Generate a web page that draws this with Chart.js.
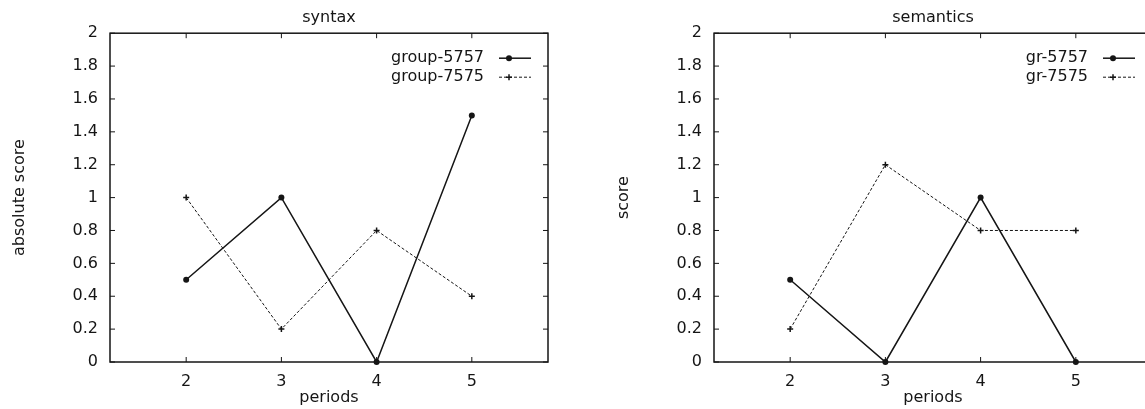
<!DOCTYPE html>
<html>
<head>
<meta charset="utf-8">
<script src="https://cdn.jsdelivr.net/npm/chart.js@4"></script>
<style>
  html, body { margin: 0; padding: 0; background: #fff; overflow: hidden; }
  body { width: 1145px; height: 409px; position: relative; }
  canvas { position: absolute; top: 0; }
</style>
</head>
<body>
<canvas id="syntax" width="604" height="409" style="left:0"></canvas>
<canvas id="semantics" width="604" height="409" style="left:604px"></canvas>
<script>
// datos
const periods = [2, 3, 4, 5];
const xTicks = [2, 3, 4, 5];
const syntaxA = [0.5, 1, 0, 1.5];   // group-5757
const syntaxB = [1, 0.2, 0.8, 0.4]; // group-7575
const semA = [0.5, 0, 1, 0];        // gr-5757
const semB = [0.2, 1.2, 0.8, 0.8];  // gr-7575

const ink = '#151515';
const fuente = 'DejaVu Sans';

function puntos(vals) {
  return periods.map((p, i) => ({ x: p, y: vals[i] }));
}

// marco estilo gnuplot con marcas hacia adentro
const marco = {
  id: 'marco',
  beforeDatasetsDraw(chart) {
    const { ctx, chartArea: a, scales } = chart;
    ctx.save();
    ctx.strokeStyle = ink;
    ctx.lineWidth = 1.5;
    ctx.strokeRect(a.left, a.top, a.right - a.left, a.bottom - a.top);
    ctx.lineWidth = 1;
    const t = 5;
    scales.x.ticks.forEach(tk => {
      const x = scales.x.getPixelForValue(tk.value);
      ctx.beginPath();
      ctx.moveTo(x, a.bottom); ctx.lineTo(x, a.bottom - t);
      ctx.moveTo(x, a.top); ctx.lineTo(x, a.top + t);
      ctx.stroke();
    });
    scales.y.ticks.forEach(tk => {
      const y = scales.y.getPixelForValue(tk.value);
      ctx.beginPath();
      ctx.moveTo(a.left, y); ctx.lineTo(a.left + t, y);
      ctx.moveTo(a.right, y); ctx.lineTo(a.right - t, y);
      ctx.stroke();
    });
    ctx.restore();
  },
  afterDraw(chart) {
    // leyenda dentro del area, arriba a la derecha
    const { ctx, chartArea: a } = chart;
    ctx.save();
    ctx.font = '16px "' + fuente + '"';
    ctx.textAlign = 'right';
    ctx.textBaseline = 'middle';
    chart.data.datasets.forEach((ds, i) => {
      const y = a.top + 25 + 19 * i;
      ctx.fillStyle = ink;
      ctx.fillText(ds.label, a.right - 64, y);
      ctx.strokeStyle = ink;
      ctx.lineWidth = ds.borderWidth;
      ctx.setLineDash(ds.borderDash || []);
      ctx.beginPath();
      ctx.moveTo(a.right - 49, y);
      ctx.lineTo(a.right - 17, y);
      ctx.stroke();
      ctx.setLineDash([]);
      const mx = a.right - 39;
      if (ds.pointStyle === 'circle') {
        ctx.beginPath();
        ctx.arc(mx, y, ds.pointRadius, 0, Math.PI * 2);
        ctx.fill();
      } else {
        ctx.lineWidth = 1.5;
        ctx.beginPath();
        ctx.moveTo(mx - 3, y); ctx.lineTo(mx + 3, y);
        ctx.moveTo(mx, y - 3); ctx.lineTo(mx, y + 3);
        ctx.stroke();
      }
    });
    ctx.restore();
  }
};

function hacerGrafica(id, titulo, ytitulo, labA, valsA, labB, valsB) {
  const config = {
    type: 'line',
    data: {
      datasets: [{
        label: labA,
        data: puntos(valsA),
        borderColor: ink,
        backgroundColor: ink,
        borderWidth: 1.5,
        pointStyle: 'circle',
        pointRadius: 3,
        pointBorderWidth: 0,
        tension: 0,
        clip: false
      }, {
        label: labB,
        data: puntos(valsB),
        borderColor: ink,
        backgroundColor: ink,
        borderWidth: 1,
        borderDash: [3, 2],
        pointStyle: 'cross',
        pointRadius: 3,
        pointBorderWidth: 1.5,
        tension: 0,
        clip: false
      }]
    },
    options: {
      responsive: false,
      animation: false,
      layout: { padding: { left: 0, right: 56, top: 0, bottom: 0 } },
      plugins: {
        legend: { display: false },
        tooltip: { enabled: false },
        title: {
          display: true,
          text: titulo,
          fullSize: false,
          color: ink,
          font: { family: fuente, size: 16, weight: 'normal' },
          padding: { top: 8, bottom: 6 }
        }
      },
      scales: {
        x: {
          type: 'linear',
          min: 1.2,
          max: 5.8,
          afterBuildTicks: s => { s.ticks = xTicks.map(v => ({ value: v })); },
          afterFit: s => { s.height = 47; },
          grid: { display: false, drawTicks: false },
          border: { display: false },
          ticks: {
            padding: 10,
            color: ink,
            font: { family: fuente, size: 16 },
            callback: v => String(v)
          },
          title: {
            display: true,
            text: 'periods',
            color: ink,
            font: { family: fuente, size: 16 },
            padding: { top: 0, bottom: 2 }
          }
        },
        y: {
          min: 0,
          max: 2,
          afterFit: s => { s.width = 110; },
          grid: { display: false, drawTicks: false },
          border: { display: false },
          ticks: {
            stepSize: 0.2,
            padding: 12,
            color: ink,
            font: { family: fuente, size: 16 },
            callback: v => String(Math.round(v * 10) / 10)
          },
          title: {
            display: true,
            text: ytitulo,
            color: ink,
            font: { family: fuente, size: 16 },
            padding: { top: 10, bottom: 0 }
          }
        }
      }
    },
    plugins: [marco]
  };
  return new Chart(document.getElementById(id), config);
}

hacerGrafica('syntax', 'syntax', 'absolute score', 'group-5757', syntaxA, 'group-7575', syntaxB);
hacerGrafica('semantics', 'semantics', 'score', 'gr-5757', semA, 'gr-7575', semB);
</script>
</body>
</html>
